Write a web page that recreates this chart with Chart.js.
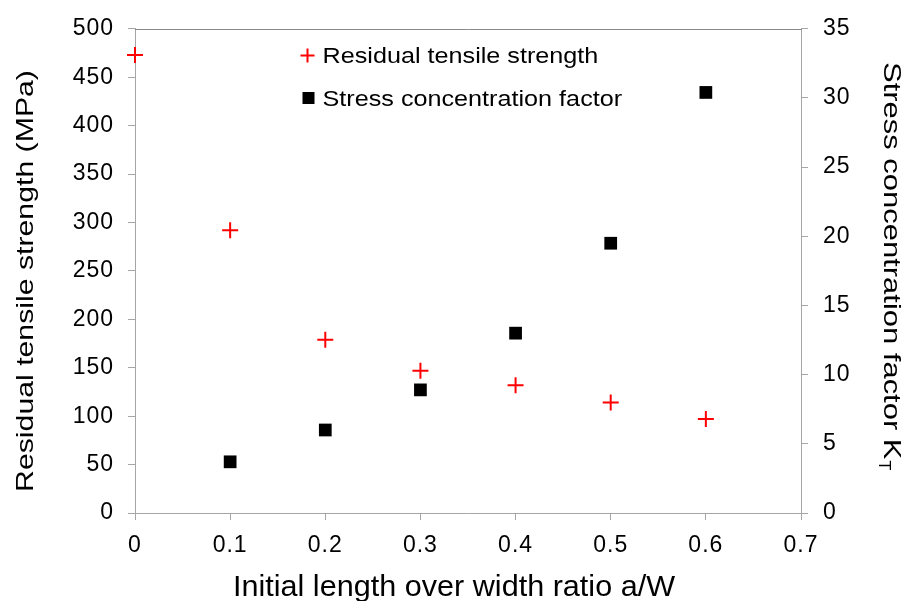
<!DOCTYPE html>
<html>
<head>
<meta charset="utf-8">
<title>Residual tensile strength and stress concentration factor vs a/W</title>
<script src="https://cdn.jsdelivr.net/npm/chart.js@4.4.1/dist/chart.umd.min.js"></script>
<style>
  html, body { margin: 0; padding: 0; background: #ffffff; }
  #wrap { width: 912px; height: 601px; }
</style>
</head>
<body>
<div id="wrap"><canvas id="chart" width="912" height="601"></canvas></div>
<script>
// Initial crack length over specimen width
const ratioAW = [0, 0.1, 0.2, 0.3, 0.4, 0.5, 0.6];
// Residual tensile strength (MPa), one value per ratio
const residualStrength = [473, 292, 179, 147, 132, 114, 97];
// Stress concentration factor K_T, measured for a/W = 0.1 ... 0.6
const ratioKt = [0.1, 0.2, 0.3, 0.4, 0.5, 0.6];
const stressFactor = [3.7, 6.0, 8.9, 13.0, 19.5, 30.4];

// Axis tick labels
const xTickLabels = ['0', '0.1', '0.2', '0.3', '0.4', '0.5', '0.6', '0.7'];
const leftTickLabels = ['0', '50', '100', '150', '200', '250', '300', '350', '400', '450', '500'];
const rightTickLabels = ['0', '5', '10', '15', '20', '25', '30', '35'];

// Text
const seriesNames = ['Residual tensile strength', 'Stress concentration factor'];
const xTitle = 'Initial length over width ratio a/W';
const leftTitle = 'Residual tensile strength (MPa)';
const rightTitle = 'Stress concentration factor K';
const rightTitleSub = 'T';

const FONT = '"Liberation Sans", Arial, sans-serif';
const AXIS_GREY = '#a6a6a6';

const strengthPoints = ratioAW.map((x, i) => ({ x: x, y: residualStrength[i] }));
const factorPoints = ratioKt.map((x, i) => ({ x: x, y: stressFactor[i] }));

// Draw a string with a horizontal stretch in its own reading direction
function stretchedText(ctx, text, x, y, angle, stretch, font, align) {
  ctx.save();
  ctx.translate(x, y);
  ctx.rotate(angle);
  ctx.scale(stretch, 1);
  ctx.font = font;
  ctx.textAlign = align;
  ctx.textBaseline = 'alphabetic';
  ctx.fillText(text, 0, 0);
  const w = ctx.measureText(text).width * stretch;
  ctx.restore();
  return w;
}

// slightly wider tracking for the tick labels
const textSpacing = {
  id: 'textSpacing',
  beforeUpdate(chart) { chart.ctx.letterSpacing = '1px'; },
  beforeDraw(chart) { chart.ctx.letterSpacing = '1px'; }
};

const decorations = {
  id: 'decorations',
  afterDraw(chart) {
    const ctx = chart.ctx;
    const ca = chart.chartArea;
    ctx.save();
    ctx.letterSpacing = '0px';
    ctx.fillStyle = '#000000';

    // frame line along the top of the plot
    ctx.strokeStyle = '#8a8a8a';
    ctx.lineWidth = 1;
    ctx.beginPath();
    ctx.moveTo(ca.left, Math.round(ca.top) + 0.5);
    ctx.lineTo(ca.right + 1, Math.round(ca.top) + 0.5);
    ctx.stroke();

    // axis titles
    stretchedText(ctx, leftTitle, 33, 281, -Math.PI / 2, 1.26, '24px ' + FONT, 'center');
    stretchedText(ctx, xTitle, 454, 596, 0, 1.055, '29px ' + FONT, 'center');
    const w = stretchedText(ctx, rightTitle, 884, 62, Math.PI / 2, 1.29, '24px ' + FONT, 'left');
    ctx.save();
    ctx.translate(884, 62);
    ctx.rotate(Math.PI / 2);
    ctx.font = '16px ' + FONT;
    ctx.textBaseline = 'alphabetic';
    ctx.fillText(rightTitleSub, w + 1, 5);
    ctx.restore();

    // legend inside the plot, styled from the datasets
    const ds = chart.data.datasets;
    ctx.strokeStyle = ds[0].borderColor;
    ctx.lineWidth = 2;
    ctx.beginPath();
    ctx.moveTo(300.5, 55.5); ctx.lineTo(314.5, 55.5);
    ctx.moveTo(307.5, 48.5); ctx.lineTo(307.5, 62.5);
    ctx.stroke();
    ctx.fillStyle = ds[1].backgroundColor;
    ctx.fillRect(302.5, 92, 12, 12);
    ctx.fillStyle = '#000000';
    stretchedText(ctx, seriesNames[0], 322.5, 63, 0, 1.145, '22px ' + FONT, 'left');
    stretchedText(ctx, seriesNames[1], 322.5, 106, 0, 1.145, '22px ' + FONT, 'left');

    ctx.restore();
  }
};

const tickFont = { family: FONT, size: 23 };

new Chart(document.getElementById('chart'), {
  type: 'scatter',
  data: {
    datasets: [
      {
        label: seriesNames[0],
        data: strengthPoints,
        yAxisID: 'y',
        pointStyle: 'cross',
        pointRadius: 8,
        pointBorderWidth: 2,
        borderColor: '#ff0000',
        backgroundColor: '#ff0000',
        showLine: false,
        clip: false
      },
      {
        label: seriesNames[1],
        data: factorPoints,
        yAxisID: 'y1',
        pointStyle: 'rect',
        pointRadius: 9,
        pointBorderWidth: 0,
        borderColor: '#000000',
        backgroundColor: '#000000',
        showLine: false,
        clip: false
      }
    ]
  },
  options: {
    responsive: false,
    animation: false,
    events: [],
    layout: { padding: { top: 27, left: 0, right: 0, bottom: 0 } },
    plugins: {
      legend: { display: false },
      tooltip: { enabled: false },
      title: { display: false }
    },
    scales: {
      x: {
        type: 'linear',
        position: 'bottom',
        min: 0,
        max: 0.7,
        afterFit(scale) { scale.height = 88; },
        ticks: {
          stepSize: 0.1,
          color: '#000000',
          font: tickFont,
          padding: 12,
          maxRotation: 0,
          autoSkip: false,
          callback: (v, i) => xTickLabels[i]
        },
        grid: { display: true, drawOnChartArea: false, drawTicks: true, tickLength: 7, color: AXIS_GREY },
        border: { display: true, color: AXIS_GREY, width: 1 }
      },
      y: {
        type: 'linear',
        position: 'left',
        min: 0,
        max: 500,
        afterFit(scale) { scale.width = 135; },
        ticks: {
          stepSize: 50,
          color: '#000000',
          font: tickFont,
          padding: 14,
          callback: (v, i) => leftTickLabels[i]
        },
        grid: { display: true, drawOnChartArea: false, drawTicks: true, tickLength: 7, color: AXIS_GREY },
        border: { display: true, color: AXIS_GREY, width: 1 }
      },
      y1: {
        type: 'linear',
        position: 'right',
        min: 0,
        max: 35,
        afterFit(scale) { scale.width = 111; },
        ticks: {
          stepSize: 5,
          color: '#000000',
          font: tickFont,
          padding: 15,
          callback: (v, i) => rightTickLabels[i]
        },
        grid: { display: true, drawOnChartArea: false, drawTicks: true, tickLength: 7, color: AXIS_GREY },
        border: { display: true, color: AXIS_GREY, width: 1 }
      }
    }
  },
  plugins: [textSpacing, decorations]
});
</script>
</body>
</html>
